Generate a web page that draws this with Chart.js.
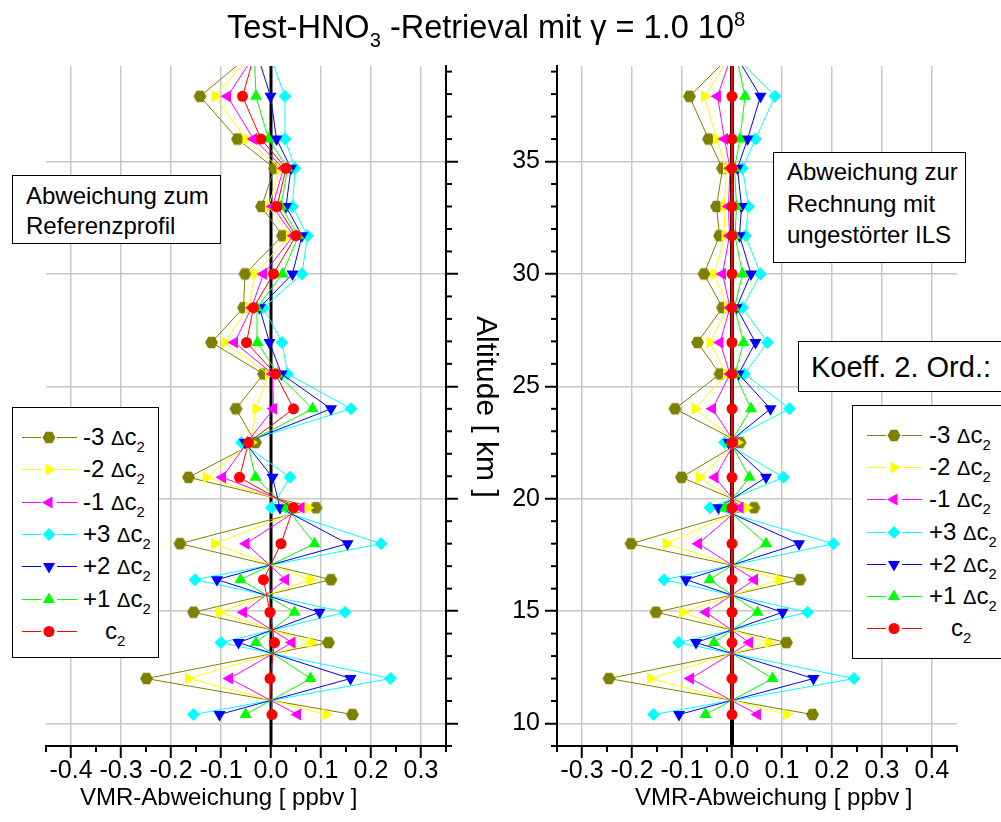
<!DOCTYPE html>
<html><head><meta charset="utf-8">
<script src="https://cdn.jsdelivr.net/npm/chart.js@4.4.1/dist/chart.umd.min.js"></script>
<style>
html,body{margin:0;padding:0;background:#fff;}
#wrap{position:relative;width:1001px;height:822px;overflow:hidden;font-family:'Liberation Sans',Arial,Helvetica,sans-serif;color:#000;}
#cL{position:absolute;left:0;top:0;}
#cR{position:absolute;left:480px;top:0;}
.t{position:absolute;white-space:nowrap;line-height:1;}
.box{position:absolute;border:1.5px solid #000;background:#fff;box-sizing:border-box;white-space:nowrap;}
.row{position:absolute;height:24px;white-space:nowrap;}
.row svg{position:absolute;left:0;top:0;}
.row .lab{position:absolute;top:0;font-size:24px;line-height:24px;}
.dl{font-size:20px;}
sub{font-size:0.62em;vertical-align:-0.45em;line-height:0;}
sup{font-size:0.62em;vertical-align:0.62em;line-height:0;}
</style></head>
<body><div id="wrap">
<canvas id="cL" width="520" height="822"></canvas>
<canvas id="cR" width="521" height="822"></canvas>
<div class="t" style="left:227px;top:11px;font-size:32.5px;">Test-HNO<sub>3</sub> -Retrieval mit γ = 1.0 10<sup>8</sup></div>
<div class="t" style="left:80px;top:785px;font-size:24px;">VMR-Abweichung [ ppbv ]</div>
<div class="t" style="left:635px;top:785px;font-size:24px;">VMR-Abweichung [ ppbv ]</div>
<div class="t" style="left:472px;top:316px;font-size:30px;writing-mode:vertical-rl;line-height:30px;">Altitude [ km ]</div>
<div class="box" style="left:12px;top:175px;width:209px;height:69px;font-size:24px;line-height:30px;padding:5px 0 0 13px;">Abweichung zum<br>Referenzprofil</div>
<div class="box" style="left:773px;top:152px;width:193px;height:111px;font-size:24px;line-height:31.5px;padding:3px 0 0 13px;">Abweichung zur<br>Rechnung mit<br>ungestörter ILS</div>
<div class="box" style="left:798px;top:341px;width:215px;height:51px;font-size:29px;line-height:29px;padding:11px 0 0 12px;">Koeff. 2. Ord.:</div>
<div class="box" id="legL" style="left:12px;top:407px;width:147px;height:251px;"></div>
<div class="box" id="legR" style="left:852px;top:405px;width:170px;height:254px;"></div>
<div id="legRows"></div>
</div>
<script>
// ---------- data ----------
const altitudes = [10.4, 12.0, 13.6, 14.95, 16.4, 18.0, 19.6, 20.95, 22.5, 24.0, 25.55, 26.95, 28.5, 30.0, 31.7, 33.0, 34.7, 36.0, 37.9, 39.6];
const seriesNames = ['-3 Δc2', '-2 Δc2', '-1 Δc2', '+3 Δc2', '+2 Δc2', '+1 Δc2', 'c2'];
const seriesColors = ['#808000', '#ffff00', '#ff00ff', '#00ffff', '#0000ff', '#00ff00', '#ff0000'];

// Left panel: Abweichung zum Referenzprofil
const leftM3 = [0.163, -0.249, 0.115, -0.155, 0.120, -0.182, 0.090, -0.165, -0.031, -0.070, -0.015, -0.119, -0.055, -0.052, 0.023, -0.019, 0.007, -0.067, -0.142, -0.050];
const leftM2 = [0.110, -0.165, 0.080, -0.103, 0.078, -0.113, 0.073, -0.130, -0.040, -0.030, -0.005, -0.093, -0.045, -0.032, 0.037, -0.005, 0.018, -0.050, -0.112, -0.045];
const leftM1 = [0.053, -0.083, 0.042, -0.055, 0.029, -0.050, 0.060, -0.097, -0.048, 0.005, 0.003, -0.073, -0.039, -0.015, 0.045, 0.003, 0.025, -0.035, -0.087, -0.037];
const leftP3 = [-0.155, 0.239, -0.100, 0.148, -0.152, 0.220, 0.001, 0.038, -0.059, 0.160, 0.033, 0.022, -0.015, 0.062, 0.073, 0.043, 0.048, 0.028, 0.028, 0.000];
const leftP2 = [-0.103, 0.159, -0.065, 0.097, -0.108, 0.153, 0.018, 0.003, -0.052, 0.120, 0.021, -0.003, -0.023, 0.043, 0.062, 0.030, 0.040, 0.011, -0.001, -0.025];
const leftP1 = [-0.051, 0.079, -0.030, 0.047, -0.061, 0.087, 0.031, -0.031, -0.047, 0.083, 0.013, -0.027, -0.028, 0.023, 0.055, 0.020, 0.033, -0.005, -0.030, -0.033];
const leftC2 = [0.002, -0.002, 0.007, -0.002, -0.015, 0.020, 0.045, -0.063, -0.045, 0.045, 0.009, -0.049, -0.035, 0.005, 0.050, 0.012, 0.030, -0.020, -0.057, -0.035];

// Right panel: Abweichung zur Rechnung mit ungestörter ILS
const rightM3 = [0.161, -0.246, 0.109, -0.152, 0.136, -0.202, 0.044, -0.101, 0.016, -0.114, -0.024, -0.069, -0.019, -0.056, -0.025, -0.031, -0.019, -0.047, -0.085, -0.008];
const rightM2 = [0.109, -0.163, 0.073, -0.099, 0.094, -0.132, 0.029, -0.065, 0.010, -0.074, -0.011, -0.044, -0.009, -0.036, -0.014, -0.016, -0.011, -0.031, -0.055, -0.006];
const rightM1 = [0.051, -0.083, 0.035, -0.052, 0.045, -0.067, 0.016, -0.034, 0.005, -0.039, -0.004, -0.024, -0.004, -0.019, -0.005, -0.007, -0.004, -0.015, -0.029, -0.003];
const rightP3 = [-0.157, 0.244, -0.107, 0.151, -0.136, 0.203, -0.044, 0.103, -0.015, 0.115, 0.025, 0.071, 0.021, 0.057, 0.027, 0.033, 0.021, 0.047, 0.086, 0.011];
const rightP2 = [-0.106, 0.163, -0.072, 0.101, -0.092, 0.134, -0.027, 0.068, -0.007, 0.077, 0.013, 0.047, 0.009, 0.038, 0.015, 0.019, 0.011, 0.031, 0.057, 0.011];
const rightP1 = [-0.053, 0.081, -0.036, 0.051, -0.045, 0.068, -0.014, 0.035, -0.003, 0.038, 0.006, 0.023, 0.005, 0.021, 0.006, 0.009, 0.005, 0.016, 0.026, 0.010];
const rightC2 = [0.000, 0.000, 0.000, 0.000, 0.000, 0.000, 0.000, 0.000, 0.000, 0.000, 0.000, 0.000, 0.000, 0.000, 0.000, 0.000, 0.000, 0.000, 0.000, 0.000];

// ticks
const xTicksLeft = [-0.45, -0.4, -0.35, -0.3, -0.25, -0.2, -0.15, -0.1, -0.05, 0, 0.05, 0.1, 0.15, 0.2, 0.25, 0.3, 0.35];
const xTicksRight = [-0.35, -0.3, -0.25, -0.2, -0.15, -0.1, -0.05, 0, 0.05, 0.1, 0.15, 0.2, 0.25, 0.3, 0.35, 0.4, 0.45];
const yTicks = [9, 10, 11, 12, 13, 14, 15, 16, 17, 18, 19, 20, 21, 22, 23, 24, 25, 26, 27, 28, 29, 30, 31, 32, 33, 34, 35, 36, 37, 38, 39];

// ---------- styling ----------
const FONT = "'Liberation Sans', Arial, sans-serif";
const GRID = '#c8c8c8';
const CLEAR = 'rgba(0,0,0,0)';
const isMajorX = v => Math.abs(v * 10 - Math.round(v * 10)) < 1e-6;
const isMajorY = v => Math.abs(v / 5 - Math.round(v / 5)) < 1e-6;

function hexCanvas(color) {
  const c = document.createElement('canvas'); c.width = 15; c.height = 15;
  const g = c.getContext('2d'); g.fillStyle = color; g.beginPath();
  for (let k = 0; k < 6; k++) { const a = Math.PI / 3 * k; const px = 7.5 + 6.5 * Math.cos(a), py = 7.5 + 6.5 * Math.sin(a); if (k) g.lineTo(px, py); else g.moveTo(px, py); }
  g.closePath(); g.fill(); return c;
}
const pointStyles = [hexCanvas(seriesColors[0]), 'triangle', 'triangle', 'rectRot', 'triangle', 'triangle', 'circle'];
const pointRot = [0, 90, 270, 0, 180, 0, 0];
const pointRad = [6.5, 7, 7, 6.5, 7, 7, 5.5];

const zeroLine = {
  id: 'zeroLine',
  beforeDatasetsDraw(chart, args, opts) {
    const {ctx, chartArea} = chart; const x = chart.scales.x.getPixelForValue(0);
    ctx.save(); ctx.strokeStyle = '#000'; ctx.lineWidth = opts.width;
    ctx.beginPath(); ctx.moveTo(x, chartArea.top); ctx.lineTo(x, chartArea.bottom); ctx.stroke(); ctx.restore();
  }
};
const minorTicks = {
  id: 'minorTicks',
  afterDraw(chart) {
    const {ctx, chartArea} = chart; ctx.save(); ctx.strokeStyle = '#000'; ctx.lineWidth = 2;
    const len = 6;
    Object.values(chart.scales).forEach(s => {
      const major = s.axis === 'x' ? isMajorX : isMajorY;
      s.ticks.forEach(t => {
        if (major(t.value)) return;
        const p = s.getPixelForValue(t.value);
        ctx.beginPath();
        if (s.position === 'bottom') { ctx.moveTo(p, chartArea.bottom); ctx.lineTo(p, chartArea.bottom + len); }
        else if (s.position === 'right') { ctx.moveTo(chartArea.right, p); ctx.lineTo(chartArea.right + len, p); }
        else { ctx.moveTo(chartArea.left - len, p); ctx.lineTo(chartArea.left, p); }
        ctx.stroke();
      });
    });
    ctx.restore();
  }
};

function buildPanel(id, series, xmin, xmax, xTicks, yPos, showYLabels, redWidth, zeroWidth, padding, yWidth) {
  const datasets = series.map((vals, i) => ({
    label: seriesNames[i],
    data: altitudes.map((a, k) => ({x: vals[k], y: a})),
    showLine: true,
    borderColor: seriesColors[i],
    backgroundColor: seriesColors[i],
    borderWidth: i === 6 ? redWidth : 1,
    pointStyle: pointStyles[i],
    pointRotation: pointRot[i],
    pointRadius: pointRad[i],
    pointHoverRadius: pointRad[i],
    pointBorderWidth: 0,
    pointBackgroundColor: seriesColors[i],
    tension: 0,
    clip: 0,
    order: 6 - i
  }));
  return new Chart(document.getElementById(id), {
    type: 'scatter',
    data: {datasets},
    plugins: [zeroLine, minorTicks],
    options: {
      responsive: false, maintainAspectRatio: false, animation: false,
      layout: {padding},
      plugins: {legend: {display: false}, tooltip: {enabled: false}, title: {display: false}, zeroLine: {width: zeroWidth}},
      events: [],
      scales: {
        x: {
          type: 'linear', position: 'bottom', min: xmin, max: xmax,
          afterBuildTicks: s => { s.ticks = xTicks.map(v => ({value: v})); },
          afterFit: s => { s.height = 50; },
          ticks: {autoSkip: false, maxRotation: 0, minRotation: 0, padding: 1, color: '#000',
            font: {family: FONT, size: 25, lineHeight: 1},
            callback: v => isMajorX(v) ? v.toFixed(1) : ''},
          grid: {color: c => (c.tick && isMajorX(c.tick.value)) ? GRID : CLEAR, lineWidth: 1.5,
            drawTicks: true, tickLength: 12, tickWidth: 2,
            tickColor: c => (c.tick && isMajorX(c.tick.value)) ? '#000' : CLEAR},
          border: {display: true, color: '#000', width: 2}
        },
        y: {
          type: 'linear', position: yPos, min: 9, max: 39.25,
          afterBuildTicks: s => { s.ticks = yTicks.map(v => ({value: v})); },
          afterFit: s => { s.width = yWidth; },
          ticks: {display: showYLabels, autoSkip: false, padding: 5, color: '#000',
            font: {family: FONT, size: 25, lineHeight: 1},
            callback: v => isMajorY(v) ? String(v) : ''},
          grid: {color: c => (c.tick && isMajorY(c.tick.value)) ? GRID : CLEAR, lineWidth: 1.5,
            drawTicks: true, tickLength: 12, tickWidth: 2,
            tickColor: c => (c.tick && isMajorY(c.tick.value)) ? '#000' : CLEAR},
          border: {display: true, color: '#000', width: 2}
        }
      }
    }
  });
}

buildPanel('cL', [leftM3, leftM2, leftM1, leftP3, leftP2, leftP1, leftC2], -0.45, 0.35, xTicksLeft,
  'right', false, 1, 3, {left: 46, top: 66, right: 54, bottom: 26}, 20);
buildPanel('cR', [rightM3, rightM2, rightM1, rightP3, rightP2, rightP1, rightC2], -0.35, 0.45, xTicksRight,
  'left', true, 2.5, 4, {left: 27, top: 66, right: 44, bottom: 26}, 50);

// ---------- legends (HTML) ----------
function markerSVG(i, cx, cy) {
  const c = seriesColors[i];
  const poly = pts => `<polygon points="${pts.map(p => p[0].toFixed(2) + ',' + p[1].toFixed(2)).join(' ')}" fill="${c}"/>`;
  const tri = (rotDeg, r) => { const pts = []; for (let k = 0; k < 3; k++) { const a = (rotDeg + k * 120) * Math.PI / 180; pts.push([cx + Math.sin(a) * r, cy - Math.cos(a) * r]); } return poly(pts); };
  switch (i) {
    case 0: { const pts = []; for (let k = 0; k < 6; k++) { const a = Math.PI / 3 * k; pts.push([cx + 6.5 * Math.cos(a), cy + 6.5 * Math.sin(a)]); } return poly(pts); }
    case 1: return tri(90, 7);
    case 2: return tri(270, 7);
    case 3: return poly([[cx, cy - 6.5], [cx + 6.5, cy], [cx, cy + 6.5], [cx - 6.5, cy]]);
    case 4: return tri(180, 7);
    case 5: return tri(0, 7);
    default: return `<circle cx="${cx}" cy="${cy}" r="5.5" fill="${c}"/>`;
  }
}
function labelHTML(name) {
  const m = name.match(/^([+-]\d) Δc2$/);
  if (m) return `${m[1]} <span class="dl">Δ</span>c<sub>2</sub>`;
  return `c<sub>2</sub>`;
}
function buildLegend(x0, y0, dy, textX) {
  let html = '';
  seriesNames.forEach((n, i) => {
    const cy = y0 + i * dy;
    const tx = textX - x0 + (i === 6 ? 22 : 0);
    html += `<div class="row" style="left:${x0}px;top:${(cy - 12).toFixed(1)}px;width:160px;">` +
      `<svg width="60" height="24"><line x1="1" y1="12.5" x2="20" y2="12.5" stroke="${seriesColors[i]}" stroke-width="1"/>` +
      `<line x1="36" y1="12.5" x2="56" y2="12.5" stroke="${seriesColors[i]}" stroke-width="1"/>${markerSVG(i, 28, 12.5)}</svg>` +
      `<span class="lab" style="left:${tx}px">${labelHTML(n)}</span></div>`;
  });
  return html;
}
document.getElementById('legRows').innerHTML = buildLegend(21, 437, 32.3, 83) + buildLegend(866, 435, 32.2, 929);
</script>
</body></html>
